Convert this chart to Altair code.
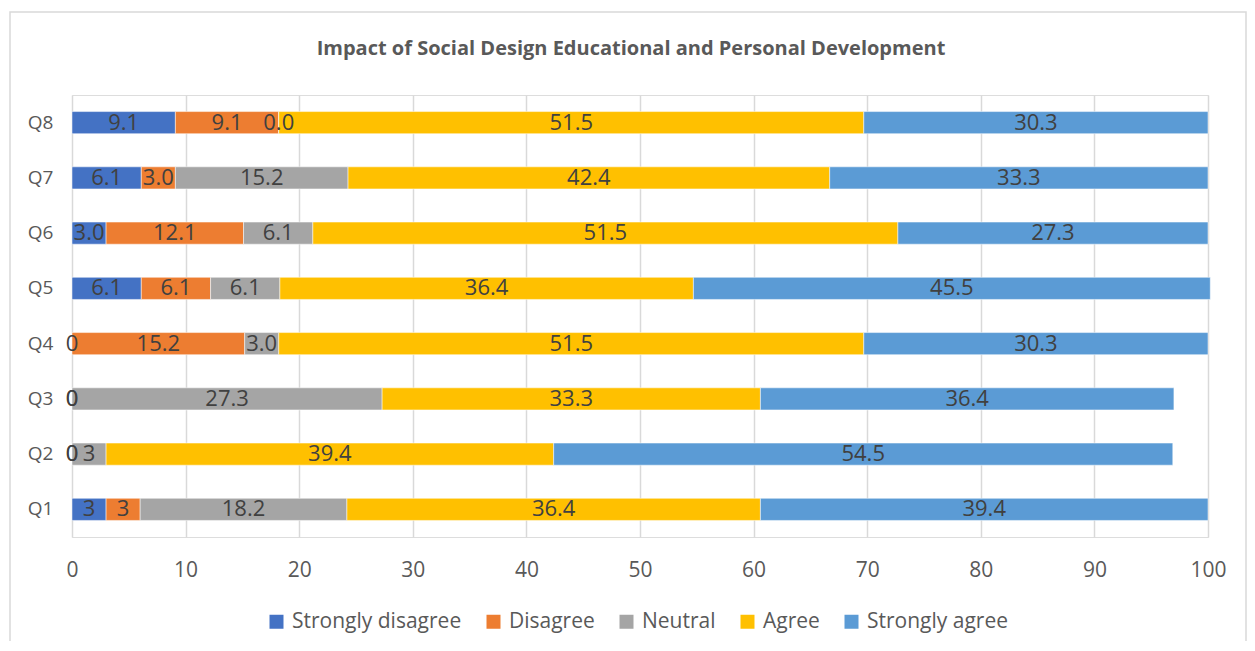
import altair as alt
import pandas as pd

questions = ["Q1", "Q2", "Q3", "Q4", "Q5", "Q6", "Q7", "Q8"]
series = ["Strongly disagree", "Disagree", "Neutral", "Agree", "Strongly agree"]
colors = ["#4472C4", "#ED7D31", "#A5A5A5", "#FFC000", "#5B9BD5"]

strongly_disagree = [3, 0, 0, 0, 6.1, 3.0, 6.1, 9.1]
disagree = [3, 0, 0, 15.2, 6.1, 12.1, 3.0, 9.1]
neutral = [18.2, 3, 27.3, 3.0, 6.1, 6.1, 15.2, 0.0]
agree = [36.4, 39.4, 33.3, 51.5, 36.4, 51.5, 42.4, 51.5]
strongly_agree = [39.4, 54.5, 36.4, 30.3, 45.5, 27.3, 33.3, 30.3]

lab_strongly_disagree = ["3", "0", "0", "0", "6.1", "3.0", "6.1", "9.1"]
lab_disagree = ["3", "0", "0", "15.2", "6.1", "12.1", "3.0", "9.1"]
lab_neutral = ["18.2", "3", "27.3", "3.0", "6.1", "6.1", "15.2", "0.0"]
lab_agree = ["36.4", "39.4", "33.3", "51.5", "36.4", "51.5", "42.4", "51.5"]
lab_strongly_agree = ["39.4", "54.5", "36.4", "30.3", "45.5", "27.3", "33.3", "30.3"]

values = [strongly_disagree, disagree, neutral, agree, strongly_agree]
labels = [lab_strongly_disagree, lab_disagree, lab_neutral, lab_agree, lab_strongly_agree]

rows = []
for si, (name, vals, labs) in enumerate(zip(series, values, labels)):
    for q, v, l in zip(questions, vals, labs):
        rows.append({"question": q, "series": name, "order": si, "value": v, "label": l})
df = pd.DataFrame(rows)

FONT = "Open Sans"
GRAY = "#595959"

base = alt.Chart(df).transform_stack(
    stack="value",
    groupby=["question"],
    sort=[alt.SortField("order", order="ascending")],
    as_=["x0", "x1"],
).transform_calculate(mid="(datum.x0 + datum.x1) / 2")

yenc = alt.Y(
    "question:N",
    sort="descending",
    title=None,
    scale=alt.Scale(paddingInner=0.6, paddingOuter=0.3),
    axis=alt.Axis(domain=False, ticks=False, labelPadding=19, labelFontSize=19,
                  labelColor=GRAY, labelFont=FONT, grid=False),
)

bars = base.mark_bar(stroke="white", strokeWidth=0.5).encode(
    x=alt.X(
        "x0:Q",
        scale=alt.Scale(domain=[0, 100], nice=False),
        title=None,
        axis=alt.Axis(values=list(range(0, 101, 10)), domain=False, ticks=False,
                      labelPadding=22, labelFontSize=21, labelColor=GRAY, labelFont=FONT,
                      labelFlush=False, labelOverlap=False,
                      grid=True, gridColor="#D9D9D9", gridWidth=1.5),
    ),
    x2="x1:Q",
    y=yenc,
    color=alt.Color(
        "series:N",
        scale=alt.Scale(domain=series, range=colors),
        legend=alt.Legend(
            title=None, orient="none", direction="horizontal", legendX=194, legendY=516,
            symbolType="square", symbolSize=196, symbolStrokeWidth=0,
            labelFontSize=21, labelColor=GRAY, labelFont=FONT, columnPadding=21,
            labelOffset=5, labelLimit=400,
        ),
    ),
    order=alt.Order("order:Q"),
)

text = base.mark_text(fontSize=22, color="#404040", font=FONT).encode(
    x=alt.X("mid:Q"),
    y=alt.Y("question:N", sort="descending"),
    text="label:N",
)

frame = alt.Chart(pd.DataFrame({"a": [0]})).mark_rect(
    fill=None, stroke="#D9D9D9", strokeWidth=1.5
).encode(
    x=alt.value(-62), x2=alt.value(1174), y=alt.value(-83), y2=alt.value(640)
)

chart = alt.layer(frame, bars, text).properties(
    width=1136,
    height=442,
    title=alt.TitleParams(
        "Impact of Social Design Educational and Personal Development",
        fontSize=20, fontWeight="bold", color=GRAY, font=FONT,
        anchor="middle", offset=-48, dx=-9, frame="group",
    ),
    autosize=alt.AutoSizeParams(type="none"),
    padding={"left": 64, "top": 87, "right": 39, "bottom": 104},
).configure_view(stroke=None).configure(background="white")

chart.save("out.html", embed_options={"renderer": "svg", "actions": False})
